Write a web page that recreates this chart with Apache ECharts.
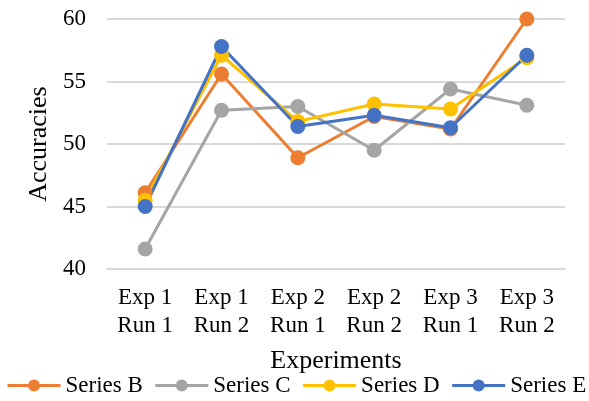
<!DOCTYPE html>
<html><head><meta charset="utf-8">
<script src="https://cdn.jsdelivr.net/npm/echarts@6/dist/echarts.min.js"></script>
<style>html,body{margin:0;padding:0;background:#fff}#c{width:589px;height:401px}</style>
</head><body><div id="c"></div>
<script>
const categories = ["Exp 1\nRun 1","Exp 1\nRun 2","Exp 2\nRun 1","Exp 2\nRun 2","Exp 3\nRun 1","Exp 3\nRun 2"];
const seriesB = [46.1, 55.6, 48.9, 52.2, 51.2, 60.0];
const seriesC = [41.6, 52.7, 53.0, 49.5, 54.4, 53.1];
const seriesD = [45.5, 57.1, 51.8, 53.2, 52.8, 56.9];
const seriesE = [45.0, 57.8, 51.4, 52.3, 51.3, 57.1];
const yTicks = {min: 40, max: 60, interval: 5};

const font = "'Liberation Serif','Times New Roman',serif";
function mk(name, data, color){
  return {name, type:'line', data, color, symbol:'circle', symbolSize:15,
    lineStyle:{width:3, color}, itemStyle:{color}};
}
const chart = echarts.init(document.getElementById('c'), null, {renderer:'canvas'});
chart.setOption({
  animation:false,
  textStyle:{fontFamily:font},
  grid:{left:107, right:24, top:19, bottom:132},
  xAxis:{type:'category', data:categories, boundaryGap:true,
    axisLine:{show:true, lineStyle:{color:'#D9D9D9', width:2}},
    axisTick:{show:false},
    axisLabel:{fontFamily:font, fontSize:23, color:'#000', lineHeight:28, margin:15, interval:0},
    name:'Experiments', nameLocation:'middle', nameGap:79,
    nameTextStyle:{fontFamily:font, fontSize:26, color:'#000'}},
  yAxis:{type:'value', min:yTicks.min, max:yTicks.max, interval:yTicks.interval,
    axisLine:{show:false}, axisTick:{show:false},
    splitLine:{lineStyle:{color:'#D9D9D9', width:2}},
    axisLabel:{fontFamily:font, fontSize:23, color:'#000', margin:21},
    name:'Accuracies', nameLocation:'middle', nameGap:51, nameRotate:90,
    nameTextStyle:{fontFamily:font, fontSize:26, color:'#000'}},
  legend:{left:6, top:374, padding:0, width:583, itemWidth:53, itemHeight:15, itemGap:11,
    lineStyle:{width:3},
    textStyle:{fontFamily:font, fontSize:23, color:'#000'},
    data:['Series B','Series C','Series D','Series E']},
  series:[
    mk('Series B', seriesB, '#ED7D31'),
    mk('Series C', seriesC, '#A5A5A5'),
    mk('Series D', seriesD, '#FFC000'),
    mk('Series E', seriesE, '#4472C4')
  ]
});
</script></body></html>
